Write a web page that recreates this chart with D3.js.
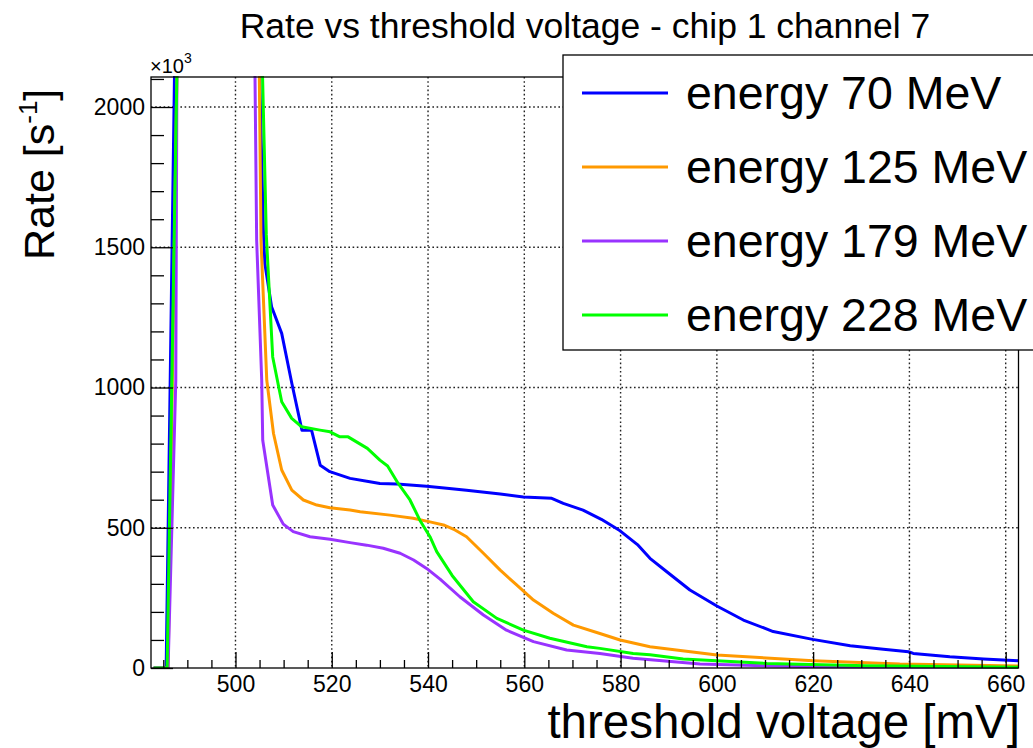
<!DOCTYPE html>
<html>
<head>
<meta charset="utf-8">
<script src="https://cdn.jsdelivr.net/npm/d3@7"></script>
<style>
  html, body { margin: 0; padding: 0; background: #fff; }
  svg { display: block; font-family: "Liberation Sans", Arial, Helvetica, sans-serif; }
</style>
</head>
<body>
<svg id="chart" width="1033" height="748"></svg>
<script>
// Threshold scan: rate (×10^3 s^-1) against threshold voltage (mV), one series per beam energy.
// Points beyond the frame (above the top) are kept only so the steep edges leave the frame.
const voltage70 = [483, 485.6, 487.4, 504.9, 505.8, 506.1, 507.5, 509.6, 511.7, 513.8, 515.8, 517.6, 519.6, 523.8, 527.9, 530.0, 533.5, 539.7, 543.9, 548.0, 555.0, 559.8, 565.7, 568.1, 572.2, 576.0, 579.9, 583.5, 586.1, 589.6, 594.4, 600.0, 605.5, 611.7, 619.9, 627.7, 634.6, 639.8, 640.8, 648.4, 655.4, 662.6];
const rate70    = [0, 0, 2200, 2200, 1561, 1442, 1288, 1193, 1015, 848, 848, 723, 700, 676, 664, 658, 656, 648, 641, 634, 620, 610, 605, 587, 563, 530, 489, 440, 391, 343, 278, 221, 171, 130, 102, 79, 67, 58, 52, 40, 32, 26];

const voltage125 = [483, 486.0, 487.9, 504.9, 505.3, 506.5, 507.9, 509.6, 511.7, 514.1, 516.9, 519.6, 523.8, 525.9, 532.1, 536.9, 540.4, 543.2, 545.6, 548.0, 551.5, 555.0, 558.4, 561.9, 566.0, 570.2, 575.7, 579.9, 586.1, 600.0, 620.0, 638.0, 662.6];
const rate125    = [0, 0, 2200, 2200, 1525, 1026, 836, 706, 634, 599, 581, 571, 563, 557, 545, 534, 521, 510, 492, 468, 409, 349, 296, 242, 195, 153, 123, 100, 76, 46, 26, 14, 7];

const voltage179 = [483, 486.0, 487.6, 487.85, 504.0, 504.4, 505.45, 505.66, 507.73, 509.93, 512.0, 515.48, 519.64, 523.8, 527.25, 530.7, 534.2, 537.0, 539.7, 542.5, 546.6, 551.5, 556.3, 561.9, 568.8, 575.7, 582.6, 596.5, 617.3, 662.6];
const rate179    = [0, 0, 1026, 2200, 2200, 1525, 1026, 812, 581, 513, 486, 468, 459, 447, 438, 427, 409, 385, 355, 317, 254, 189, 135, 94, 64, 52, 35, 14, 5, 2];

const voltage228 = [483, 485.8, 487.9, 505.5, 506.4, 507.73, 509.6, 511.68, 513.75, 517.56, 519.64, 521.7, 523.4, 527.4, 530.0, 531.6, 533.8, 536.25, 538.3, 540.4, 541.8, 545.0, 549.4, 554.3, 559.8, 565.3, 573.0, 575.7, 582.6, 586.1, 593.0, 610.4, 631.0, 662.6];
const rate228    = [0, 0, 2200, 2200, 1545, 1109, 949, 890, 860, 848, 842, 824, 824, 783, 741, 720, 658, 599, 527, 468, 415, 330, 236, 177, 135, 106, 76, 70, 52, 47, 32, 16, 8, 3];

const seriesNames  = ["energy 70 MeV", "energy 125 MeV", "energy 179 MeV", "energy 228 MeV"];
const seriesColors = ["#0000ff", "#ff9900", "#9933ff", "#00ff00"];
const seriesX = [voltage70, voltage125, voltage179, voltage228];
const seriesY = [rate70, rate125, rate179, rate228];

const xMajorTicks = [500, 520, 540, 560, 580, 600, 620, 640, 660];
const yMajorTicks = [0, 500, 1000, 1500, 2000];

const chartTitle = "Rate vs threshold voltage - chip 1 channel 7";
const xTitle = "threshold voltage [mV]";

const svg = d3.select("#chart");
const frame = { left: 151, right: 1018.5, top: 77, bottom: 668 };

const x = d3.scaleLinear().domain([482.45, 662.66]).range([frame.left, frame.right]);
const y = d3.scaleLinear().domain([0, 2107]).range([frame.bottom, frame.top]);

// dotted grid at the major ticks
const grid = svg.append("g").attr("stroke", "#222").attr("stroke-width", 1.4).attr("stroke-dasharray", "1.6,2.6");
grid.selectAll("line.gx").data(xMajorTicks).join("line")
  .attr("x1", d => x(d)).attr("x2", d => x(d)).attr("y1", frame.top).attr("y2", frame.bottom);
grid.selectAll("line.gy").data(yMajorTicks.filter(d => d > 0)).join("line")
  .attr("x1", frame.left).attr("x2", frame.right).attr("y1", d => y(d)).attr("y2", d => y(d));

// curves, clipped to the frame
svg.append("clipPath").attr("id", "frameClip").append("rect")
  .attr("x", frame.left).attr("y", frame.top - 1)
  .attr("width", frame.right - frame.left).attr("height", frame.bottom - frame.top + 2);

const line = d3.line().x(d => x(d[0])).y(d => y(d[1]));
const curves = svg.append("g").attr("clip-path", "url(#frameClip)");
seriesX.forEach((xs, i) => {
  const pts = xs.map((v, j) => [v, seriesY[i][j]]);
  curves.append("path").datum(pts)
    .attr("fill", "none").attr("stroke", seriesColors[i])
    .attr("stroke-width", 3).attr("stroke-linejoin", "round")
    .attr("d", line);
});

// axes with inward ticks
const xMinor = d3.range(485, 661, 5).filter(v => !xMajorTicks.includes(v));
const yMinor = d3.range(100, 2101, 100).filter(v => !yMajorTicks.includes(v));
const fmt = d3.format("d");

const xAxis = svg.append("g").attr("transform", `translate(0,${frame.bottom})`)
  .call(d3.axisBottom(x).tickValues(xMajorTicks).tickFormat(fmt).tickSize(-16).tickPadding(8).tickSizeOuter(0));
const xAxisMinor = svg.append("g").attr("transform", `translate(0,${frame.bottom})`)
  .call(d3.axisBottom(x).tickValues(xMinor).tickSize(-8).tickFormat("").tickSizeOuter(0));
const yAxis = svg.append("g").attr("transform", `translate(${frame.left},0)`)
  .call(d3.axisLeft(y).tickValues(yMajorTicks).tickFormat(fmt).tickSize(-22).tickPadding(6).tickSizeOuter(0));
const yAxisMinor = svg.append("g").attr("transform", `translate(${frame.left},0)`)
  .call(d3.axisLeft(y).tickValues(yMinor).tickSize(-13).tickFormat("").tickSizeOuter(0));

[xAxis, xAxisMinor, yAxis, yAxisMinor].forEach(g => {
  g.select(".domain").remove();
  g.selectAll(".tick line").attr("stroke", "#000").attr("stroke-width", 1.3);
  g.selectAll(".tick text").attr("fill", "#000").attr("font-size", 23)
    .attr("font-family", "Liberation Sans, Arial, sans-serif");
});

// frame
svg.append("rect")
  .attr("x", frame.left).attr("y", frame.top)
  .attr("width", frame.right - frame.left).attr("height", frame.bottom - frame.top)
  .attr("fill", "none").attr("stroke", "#000").attr("stroke-width", 1.3);

// exponent of the y axis
const expo = svg.append("text").attr("x", 150).attr("y", 73).attr("font-size", 20).attr("fill", "#000");
expo.append("tspan").text("\u00d710");
expo.append("tspan").attr("font-size", 14).attr("dy", -10).text("3");

// title
svg.append("text").attr("x", 585).attr("y", 38).attr("text-anchor", "middle")
  .attr("font-size", 35.5).attr("fill", "#000").text(chartTitle);

// x axis title
svg.append("text").attr("x", 1020).attr("y", 738).attr("text-anchor", "end")
  .attr("font-size", 47.5).attr("fill", "#000").text(xTitle);

// y axis title with superscript unit
const yt = svg.append("text").attr("transform", "translate(54,260) rotate(-90)")
  .attr("font-size", 43).attr("fill", "#000");
yt.append("tspan").text("Rate [s");
yt.append("tspan").attr("font-size", 26).attr("dy", -17).text("-1");
yt.append("tspan").attr("dy", 17).text("]");

// legend
const legend = svg.append("g");
legend.append("rect").attr("x", 563).attr("y", 55).attr("width", 520).attr("height", 295)
  .attr("fill", "#fff").attr("stroke", "#000").attr("stroke-width", 1.3);
const legendRows = [93, 167, 241, 315];
seriesNames.forEach((name, i) => {
  const ly = legendRows[i];
  legend.append("line").attr("x1", 582).attr("x2", 668).attr("y1", ly).attr("y2", ly)
    .attr("stroke", seriesColors[i]).attr("stroke-width", 3);
  legend.append("text").attr("x", 686).attr("y", ly + 16).attr("font-size", 46.5)
    .attr("fill", "#000").text(name);
});
</script>
</body>
</html>
